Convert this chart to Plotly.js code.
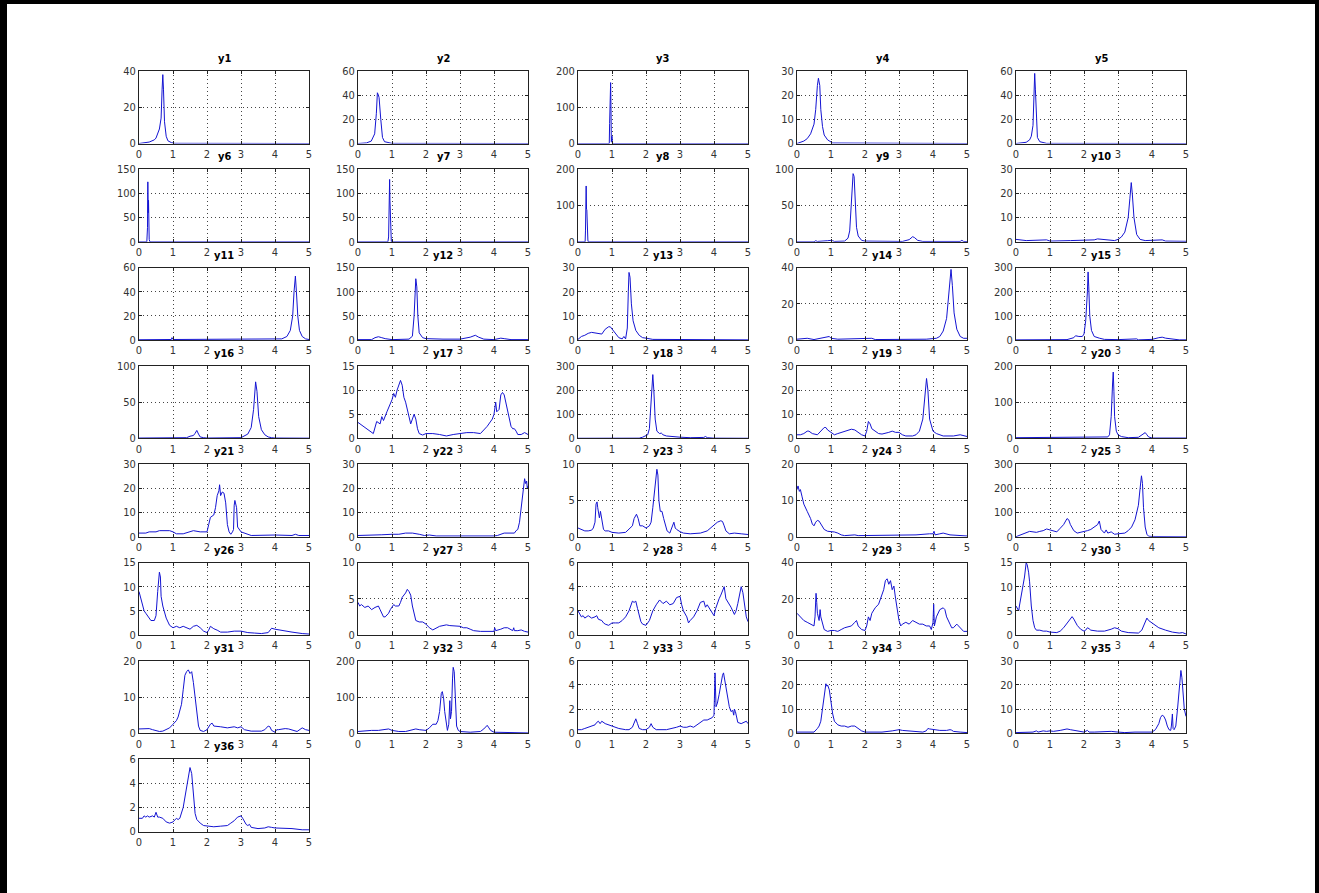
<!DOCTYPE html>
<html><head><meta charset="utf-8">
<script src="https://cdn.plot.ly/plotly-3.0.1.min.js"></script>
<style>
html,body{margin:0;padding:0;background:#fff;}
#chart{width:1319px;height:893px;}
#frame{position:absolute;left:0;top:0;width:1319px;height:893px;box-sizing:border-box;border-left:7px solid #000;border-right:4px solid #000;border-top:4px solid #000;pointer-events:none;}
</style></head>
<body><div id="chart"></div><div id="frame"></div>
<script>
const titles = ['y1','y2','y3','y4','y5','y6','y7','y8','y9','y10','y11','y12','y13','y14','y15','y16','y17','y18','y19','y20','y21','y22','y23','y24','y25','y26','y27','y28','y29','y30','y31','y32','y33','y34','y35','y36'];
const xTicks = [0,1,2,3,4,5];
const yTop  = [40,60,200,30,60, 150,150,200,100,30, 60,150,30,40,300, 100,15,300,30,200, 30,30,10,20,300, 15,10,6,40,15, 20,200,6,30,30, 6];
const yStep = [20,20,100,10,20, 50,50,100,50,10, 20,50,10,20,100, 50,5,100,10,100, 10,10,5,10,100, 5,5,2,20,5, 10,100,2,10,10, 2];

const s1 = [[0,0],[0.2,0.3],[0.3,0.8],[0.45,2],[0.5,3],[0.6,8],[0.65,14],[0.68,30],[0.7,38],[0.72,30],[0.75,12],[0.8,4],[0.85,1.5],[0.95,0.5],[1.0,0.3],[1.05,0.1],[5,0]];
const s2 = [[0,0],[0.25,0.5],[0.39,2],[0.49,8],[0.54,25],[0.57,42],[0.6,40],[0.62,38],[0.67,20],[0.72,5],[0.78,1.5],[0.93,0.3],[1.0,0.1],[5,0]];
const s3 = [[0,0],[0.92,0],[0.93,55],[0.94,130],[0.95,100],[0.96,168],[0.97,100],[0.98,5],[1.0,20],[1.01,0],[5,0]];
const s4 = [[0,0],[0.1,0.5],[0.2,1],[0.3,2],[0.4,4],[0.5,8],[0.55,14],[0.6,24],[0.63,27],[0.67,24],[0.7,14],[0.75,7],[0.8,3.5],[0.9,1.5],[1.0,0.7],[1.05,0.2],[5,0]];
const s5 = [[0,0],[0.1,0.3],[0.2,0.5],[0.3,1],[0.4,3],[0.45,6],[0.5,15],[0.53,40],[0.55,58],[0.57,45],[0.6,15],[0.63,5],[0.7,1.5],[0.8,0.5],[0.9,0.1],[5,0]];
const s6 = [[0,0],[0.23,0],[0.25,30],[0.26,124],[0.27,60],[0.28,86],[0.29,30],[0.3,5],[0.32,0],[5,0]];
const s7 = [[0,0],[0.88,0],[0.9,10],[0.92,60],[0.93,129],[0.94,85],[0.95,40],[0.96,5],[0.98,0],[5,0]];
const s8 = [[0,0],[0.21,0],[0.22,30],[0.24,154],[0.25,90],[0.26,88],[0.27,20],[0.29,5],[0.3,0],[5,0]];
const s9 = [[0,0],[0.5,0],[0.55,1.5],[0.6,0.5],[0.9,1.5],[0.95,2],[1.0,2],[1.05,1.5],[1.1,0.5],[1.4,1],[1.5,5],[1.55,15],[1.6,50],[1.65,94],[1.68,90],[1.72,50],[1.75,20],[1.8,8],[1.85,4],[1.9,2],[2.0,1],[2.5,0.5],[3.1,0.5],[3.3,3],[3.4,7],[3.45,6],[3.55,2],[3.7,0.5],[4.8,0.5],[4.85,2],[4.9,0.5],[5,0.3]];
const s10 = [[0,1],[0.3,0.5],[0.9,0.8],[1.0,0.3],[1.6,0.5],[2.3,0.8],[2.4,1.2],[2.6,0.8],[2.9,0.5],[3.0,1],[3.1,2],[3.2,4],[3.3,10],[3.35,18],[3.39,24.5],[3.42,20],[3.47,10],[3.55,3],[3.65,1],[3.8,0.5],[4.3,0.8],[4.4,0.3],[5,0.2]];
const s11 = [[0,0.3],[0.95,0.5],[0.97,2],[1.0,0.5],[4.2,1],[4.35,3],[4.45,8],[4.52,20],[4.56,40],[4.6,53],[4.63,40],[4.67,20],[4.72,8],[4.8,3],[4.9,1],[5,0.5]];
const s12 = [[0,1],[0.4,1],[0.5,5],[0.6,7],[0.7,5],[0.8,3],[1.0,1],[1.5,2],[1.6,8],[1.65,50],[1.7,127],[1.73,110],[1.76,50],[1.8,15],[1.9,5],[2.0,3],[2.5,2],[3.0,2],[3.3,6],[3.45,10],[3.55,6],[3.7,2],[4.0,1],[4.2,4],[4.3,3],[4.5,1],[5,1]];
const s13 = [[0,0.3],[0.1,1.5],[0.2,2],[0.3,2.8],[0.4,3.2],[0.5,3],[0.6,3],[0.7,2.5],[0.8,4.5],[0.9,5.5],[0.95,5.5],[1.0,4.5],[1.1,3],[1.2,1],[1.3,0.5],[1.35,1.5],[1.4,0.5],[1.45,5],[1.48,20],[1.5,28],[1.53,26],[1.57,15],[1.62,8],[1.7,4],[1.8,2],[1.9,1],[2.0,0.8],[2.2,0.3],[5,0.1]];
const s14 = [[0,0.5],[0.3,1],[0.5,0.3],[0.8,1.5],[0.95,2],[1.0,1],[1.2,0.5],[2.2,1],[2.3,0.3],[3.8,0.5],[4.1,1],[4.2,2],[4.3,5],[4.4,12],[4.47,28],[4.53,39],[4.57,30],[4.62,15],[4.7,6],[4.8,2],[4.9,1],[5,1]];
const s15 = [[0,1],[0.5,1],[0.55,4],[0.6,1],[1.5,2],[1.7,10],[1.75,18],[1.85,15],[1.95,15],[2.0,25],[2.05,80],[2.1,200],[2.12,282],[2.14,220],[2.17,100],[2.22,40],[2.3,15],[2.45,8],[2.6,3],[3.0,2],[3.5,2],[3.55,5],[3.6,1],[4.0,3],[4.2,10],[4.3,12],[4.4,8],[4.6,3],[4.8,1],[5,1]];
const s16 = [[0,0.5],[1.4,1],[1.5,3],[1.6,4],[1.65,7],[1.7,11],[1.75,6],[1.8,2],[1.9,1],[2.0,0.5],[3.0,1],[3.1,3],[3.2,6],[3.3,15],[3.37,40],[3.43,78],[3.47,65],[3.52,30],[3.6,12],[3.7,5],[3.8,2],[3.9,1],[4,0.5],[5,0.3]];
const s17 = [[0,3.3],[0.25,2],[0.45,1],[0.55,3.5],[0.65,3],[0.7,4.5],[0.75,3.7],[0.85,5.5],[0.95,7],[1.0,8],[1.05,9.3],[1.1,8.5],[1.15,10],[1.2,11],[1.25,12],[1.3,11],[1.35,8.5],[1.4,7.5],[1.45,6],[1.5,4],[1.55,3],[1.6,4],[1.65,5],[1.7,4],[1.75,2],[1.8,1],[1.9,0.7],[2.0,1],[2.2,1],[2.4,0.8],[2.6,0.5],[2.8,0.8],[3.0,1],[3.2,1.2],[3.4,1.2],[3.6,1],[3.8,2.5],[3.95,4],[4.0,5],[4.05,7.5],[4.08,5.5],[4.15,6],[4.2,9],[4.25,9.5],[4.3,9],[4.35,7.5],[4.4,6],[4.45,4],[4.5,2.5],[4.55,2],[4.6,2],[4.65,1.5],[4.7,0.8],[4.8,0.8],[4.9,1.2],[5,0.8]];
const s18 = [[0,0.5],[1.8,1],[1.9,5],[2.0,10],[2.05,15],[2.1,40],[2.15,150],[2.2,264],[2.23,200],[2.27,80],[2.32,30],[2.4,20],[2.45,22],[2.5,15],[2.6,10],[2.8,7],[3.0,5],[3.3,3],[3.7,4],[3.75,8],[3.8,3],[4,1],[5,0.5]];
const s19 = [[0,1.5],[0.1,1.5],[0.2,2],[0.3,3],[0.35,3],[0.45,2],[0.6,1.5],[0.7,3],[0.8,4.5],[0.85,4.5],[0.9,3.5],[1.0,2.5],[1.1,1.5],[1.2,2],[1.3,2.5],[1.4,3],[1.5,3.5],[1.6,3.8],[1.7,3.5],[1.8,2.5],[1.9,1.5],[2.0,1],[2.05,3],[2.1,7],[2.15,6],[2.2,4],[2.3,3],[2.4,2],[2.5,1.8],[2.6,2],[2.7,2.5],[2.8,3],[2.9,2.5],[3.0,2.5],[3.1,1.5],[3.2,1],[3.4,1],[3.5,1.5],[3.6,3],[3.7,8],[3.76,18],[3.81,24.8],[3.85,20],[3.9,8],[4.0,3],[4.1,2],[4.3,1],[4.6,1],[4.8,1.5],[4.9,1],[5,0.8]];
const s20 = [[0,2],[0.2,2],[0.3,3],[0.4,2],[0.9,2],[0.95,4],[1.0,2],[1.5,2],[1.52,4],[1.55,2],[2.0,3],[2.5,3],[2.7,4],[2.75,10],[2.8,60],[2.84,150],[2.86,183],[2.88,130],[2.9,60],[2.95,20],[3.0,10],[3.1,5],[3.3,2],[3.6,3],[3.7,10],[3.8,16],[3.85,10],[3.9,4],[4,1],[5,1]];
const s21 = [[0,1.5],[0.2,1.5],[0.3,2],[0.5,2],[0.6,2.5],[0.7,2.5],[0.9,2.5],[1.0,2],[1.1,1.2],[1.3,1.2],[1.5,2],[1.6,2.5],[1.8,2],[2.0,2],[2.05,5],[2.1,8],[2.2,9],[2.25,12],[2.3,17],[2.35,19],[2.37,21.5],[2.4,17],[2.45,18.5],[2.5,18],[2.55,14],[2.6,5],[2.65,2],[2.7,1],[2.75,2],[2.78,3],[2.8,13],[2.82,15],[2.87,12],[2.9,4],[3.0,2],[3.1,1.5],[3.2,1],[3.3,0.5],[4.0,0.7],[4.5,0.5],[4.6,1],[4.7,0.5],[5,0.5]];
const s22 = [[0,0.5],[0.5,0.5],[0.7,0.8],[1.0,1],[1.2,1],[1.4,1.5],[1.6,1.5],[1.8,1],[1.95,0.5],[2.1,0.7],[2.3,0.3],[4.0,0.3],[4.1,0.5],[4.3,1.5],[4.5,1.5],[4.6,1.5],[4.65,2.5],[4.7,3],[4.75,6],[4.8,12],[4.85,17],[4.88,20],[4.9,24],[4.93,22],[4.96,23],[4.98,20],[5.0,21]];
const s23 = [[0,1.2],[0.1,1],[0.2,0.8],[0.3,0.8],[0.4,0.9],[0.45,1.2],[0.5,2],[0.53,4.5],[0.56,4.8],[0.58,4],[0.6,3.3],[0.63,2.6],[0.66,3.5],[0.7,2.5],[0.75,1],[0.8,0.8],[0.9,0.8],[1.0,0.6],[1.2,0.5],[1.4,0.6],[1.5,1],[1.6,1.5],[1.65,2.5],[1.72,3.1],[1.77,2.5],[1.82,1.5],[1.9,1.5],[2.0,1.2],[2.1,1.5],[2.15,2],[2.2,4],[2.26,7],[2.32,9.3],[2.35,8.5],[2.38,5],[2.42,3.5],[2.47,3.5],[2.52,2.5],[2.57,1.5],[2.62,0.8],[2.7,0.5],[2.75,1.2],[2.82,2],[2.86,1.2],[2.9,1],[3.0,0.7],[3.1,0.5],[3.3,0.4],[3.6,0.5],[3.8,0.8],[3.9,1.2],[4.0,1.5],[4.1,2],[4.2,2.2],[4.25,2.1],[4.3,1.5],[4.35,0.8],[4.45,0.4],[4.6,0.5],[4.8,0.4],[5,0.3]];
const s24 = [[0,13],[0.03,14],[0.07,12.5],[0.1,13],[0.15,11],[0.2,9],[0.3,7],[0.4,5],[0.45,3.5],[0.5,3],[0.55,4],[0.6,4.5],[0.65,4.3],[0.7,3.5],[0.8,2],[0.9,1.5],[1.0,1.5],[1.1,1.3],[1.2,1],[1.3,0.5],[1.4,0.3],[1.7,0.5],[1.8,0.3],[2.5,0.3],[3.0,0.5],[3.5,0.5],[3.9,0.8],[4.0,0.8],[4.03,1.5],[4.06,0.5],[4.2,0.8],[4.3,1],[4.5,0.5],[4.8,0.3],[5,0.2]];
const s25 = [[0,0],[0.1,5],[0.2,10],[0.3,18],[0.4,22],[0.5,20],[0.6,18],[0.7,22],[0.8,25],[0.9,32],[1.0,28],[1.1,25],[1.2,20],[1.3,35],[1.4,50],[1.5,75],[1.55,70],[1.6,50],[1.7,25],[1.8,15],[1.9,18],[2.0,20],[2.1,25],[2.2,30],[2.3,40],[2.4,50],[2.45,65],[2.5,30],[2.6,15],[2.65,28],[2.7,15],[2.8,20],[2.85,15],[2.9,10],[3.0,12],[3.2,15],[3.3,25],[3.4,40],[3.5,70],[3.6,130],[3.65,200],[3.69,252],[3.72,220],[3.75,120],[3.8,40],[3.85,10],[3.9,2],[4.0,1],[5,0]];
const s26 = [[0,9],[0.05,7.5],[0.1,6],[0.15,5],[0.2,4.5],[0.3,3.5],[0.35,3],[0.45,3],[0.5,4],[0.55,9],[0.58,12.5],[0.6,13],[0.63,12],[0.65,8],[0.7,6],[0.8,3.5],[0.9,2],[1.0,1.5],[1.1,1.8],[1.2,1.5],[1.3,1.8],[1.4,1.5],[1.5,1.2],[1.6,1.8],[1.7,2],[1.8,1.5],[1.9,0.8],[2.0,0.5],[2.05,1],[2.1,1.8],[2.2,1.3],[2.3,1],[2.4,0.6],[2.6,0.6],[2.8,0.8],[3.0,0.8],[3.2,0.5],[3.4,0.4],[3.6,0.3],[3.8,0.5],[3.9,1.4],[4.0,1.2],[4.2,0.9],[4.5,0.6],[4.8,0.3],[5,0.2]];
const s27 = [[0,4.5],[0.05,4],[0.1,4.2],[0.2,3.8],[0.3,4],[0.4,3.5],[0.5,3.8],[0.6,4],[0.65,3.5],[0.7,3],[0.75,2.5],[0.8,2.5],[0.85,2.8],[0.9,3],[0.95,3.5],[1.0,3.8],[1.05,4.2],[1.1,4],[1.2,4],[1.25,4.5],[1.3,5.2],[1.4,5.8],[1.45,6.3],[1.5,6],[1.55,5.5],[1.6,4],[1.7,2],[1.8,1.8],[1.9,1.8],[2.0,1.5],[2.1,1],[2.2,0.7],[2.3,1],[2.4,1.2],[2.5,1.3],[2.6,1.4],[2.7,1.3],[2.8,1.3],[2.9,1.3],[3.0,1.2],[3.1,1],[3.2,1],[3.3,0.8],[3.4,0.6],[3.6,0.5],[3.8,0.5],[4.0,0.5],[4.02,1],[4.05,0.6],[4.2,0.8],[4.3,1],[4.4,1],[4.5,0.8],[4.55,0.6],[4.58,1],[4.6,0.6],[4.7,0.6],[4.8,0.7],[4.9,0.5],[5,0.4]];
const s28 = [[0,2],[0.05,1.8],[0.1,1.5],[0.15,1.6],[0.2,1.4],[0.3,1.6],[0.4,1.4],[0.5,1.5],[0.55,1.6],[0.6,1.3],[0.7,1.2],[0.75,1],[0.8,0.9],[0.9,0.8],[1.0,1],[1.1,1],[1.2,1],[1.3,1.2],[1.4,1.5],[1.5,2],[1.6,2.8],[1.65,2.7],[1.7,2.8],[1.75,2.2],[1.8,1.5],[1.85,1.1],[1.9,0.9],[2.0,0.8],[2.1,1.2],[2.2,2],[2.3,2.5],[2.4,2.9],[2.5,2.6],[2.6,2.8],[2.7,2.5],[2.8,2.6],[2.9,3.1],[3.0,3.2],[3.05,2.5],[3.1,2],[3.2,1.5],[3.25,1],[3.3,1.2],[3.4,1.5],[3.5,2],[3.6,2.7],[3.7,2.8],[3.75,2.3],[3.8,2.5],[3.9,2],[4.0,1.6],[4.05,2.2],[4.1,2.7],[4.15,3],[4.2,3.3],[4.25,3.6],[4.3,4],[4.35,3],[4.4,2.8],[4.5,2.3],[4.6,1.7],[4.65,2],[4.7,2.6],[4.75,3.5],[4.8,4],[4.85,3.5],[4.9,2.5],[4.95,1.5],[5,1.1]];
const s29 = [[0,12],[0.1,10],[0.2,8],[0.3,7],[0.4,6],[0.5,5],[0.53,10],[0.56,23],[0.58,18],[0.6,12],[0.65,8],[0.68,14],[0.7,10],[0.75,6],[0.8,3],[0.9,2],[1.0,2.5],[1.1,2.5],[1.2,2],[1.3,3],[1.4,4],[1.5,4.5],[1.6,5],[1.7,7],[1.75,8],[1.8,5],[1.9,3],[2.0,2.5],[2.05,5],[2.1,10],[2.15,8],[2.2,12],[2.3,15],[2.4,17],[2.5,22],[2.55,25],[2.6,30],[2.65,31],[2.7,28],[2.75,30],[2.8,25],[2.85,27],[2.9,20],[2.95,14],[3.0,8],[3.05,5],[3.1,6],[3.2,7],[3.3,6],[3.4,8],[3.5,7],[3.6,6],[3.7,6],[3.8,5],[3.9,5],[3.95,3],[4.0,7],[4.02,17],[4.04,5],[4.1,10],[4.2,14],[4.3,15],[4.35,14],[4.4,10],[4.5,6],[4.55,4],[4.6,4],[4.7,6],[4.75,5],[4.8,4],[4.9,2],[5,2]];
const s30 = [[0,6],[0.05,5.5],[0.08,5],[0.1,6],[0.15,8],[0.2,10],[0.25,12],[0.3,15],[0.33,14.5],[0.37,13],[0.4,11],[0.45,6],[0.5,3],[0.55,1.5],[0.6,1],[0.7,1],[0.8,0.8],[0.9,0.8],[1.0,0.6],[1.2,0.5],[1.3,0.8],[1.4,1.5],[1.5,2.5],[1.6,3.5],[1.65,3.8],[1.7,3.3],[1.8,2],[1.9,1.2],[2.0,0.8],[2.05,1],[2.1,1.5],[2.15,1.3],[2.2,1],[2.4,0.8],[2.6,0.8],[2.8,1.2],[2.9,1.5],[3.0,1.3],[3.1,0.8],[3.3,0.5],[3.5,0.4],[3.6,0.4],[3.7,1],[3.8,2.5],[3.85,3.5],[3.9,3],[4.0,2.5],[4.1,2],[4.2,1.5],[4.4,1],[4.6,0.6],[4.8,0.4],[4.9,0.5],[5,0.2]];
const s31 = [[0,1.2],[0.1,1.2],[0.2,1.3],[0.3,1.3],[0.4,1],[0.5,0.8],[0.6,0.5],[0.7,0.6],[0.8,1],[0.9,1.5],[1.0,2.5],[1.1,3.5],[1.15,4.5],[1.2,6],[1.25,8],[1.3,12],[1.35,16],[1.4,17],[1.45,17.5],[1.5,16.5],[1.55,17],[1.6,14],[1.65,10],[1.7,5],[1.75,2],[1.8,0.8],[1.9,0.5],[2.0,1],[2.1,2.5],[2.15,2.8],[2.2,2],[2.4,1.8],[2.6,1.5],[2.8,1.8],[2.9,1.5],[3.0,1.8],[3.1,1],[3.3,0.6],[3.6,0.6],[3.7,1],[3.8,2],[3.85,1.8],[3.9,0.8],[4.0,0.3],[4.05,1],[4.1,1],[4.2,1.2],[4.3,1.3],[4.4,1.2],[4.5,1],[4.6,0.8],[4.65,0.5],[4.8,1.5],[4.9,1],[5,0.8]];
const s32 = [[0,5],[0.2,7],[0.4,8],[0.6,8],[0.7,10],[0.8,12],[0.9,12],[1.0,8],[1.2,5],[1.4,5],[1.5,8],[1.6,10],[1.7,12],[1.8,10],[1.9,8],[2.0,8],[2.1,15],[2.2,25],[2.3,25],[2.35,35],[2.4,60],[2.45,110],[2.48,115],[2.52,95],[2.55,60],[2.6,20],[2.63,8],[2.67,25],[2.7,90],[2.72,40],[2.75,60],[2.78,150],[2.8,182],[2.83,170],[2.86,80],[2.9,20],[2.95,8],[3.0,5],[3.3,3],[3.6,5],[3.7,12],[3.8,22],[3.85,15],[3.9,8],[4,3],[4.5,1],[5,1]];
const s33 = [[0,0.3],[0.1,0.3],[0.2,0.4],[0.3,0.5],[0.4,0.6],[0.5,0.7],[0.55,0.9],[0.6,1],[0.65,0.8],[0.7,1],[0.8,0.8],[0.9,0.7],[1.0,0.6],[1.2,0.4],[1.4,0.3],[1.5,0.3],[1.6,0.5],[1.7,1.2],[1.75,0.8],[1.8,0.4],[1.9,0.3],[2.0,0.3],[2.1,0.5],[2.15,0.8],[2.2,0.5],[2.3,0.3],[2.6,0.3],[2.8,0.4],[2.9,0.5],[3.0,0.6],[3.1,0.5],[3.2,0.5],[3.3,0.6],[3.4,0.5],[3.5,0.7],[3.6,0.9],[3.7,1.1],[3.8,1.1],[3.9,1.2],[3.95,1.3],[4.0,1.5],[4.03,5],[4.06,2.2],[4.1,2.5],[4.15,3.2],[4.2,4.2],[4.25,4.8],[4.28,5],[4.3,4.7],[4.35,3.8],[4.4,3],[4.45,2.2],[4.5,1.8],[4.55,1.9],[4.58,1.5],[4.6,2],[4.63,1.8],[4.7,0.9],[4.8,0.8],[4.9,0.9],[4.95,1],[5,0.8]];
const s34 = [[0,0.5],[0.3,0.5],[0.5,0.5],[0.6,2],[0.65,3],[0.7,5],[0.75,10],[0.8,15],[0.85,20.5],[0.88,19.5],[0.9,20],[0.95,18],[1.0,12],[1.05,8],[1.1,5],[1.2,3.5],[1.3,3],[1.4,3],[1.5,2.5],[1.6,3],[1.7,3],[1.8,2],[1.9,1],[2.0,0.5],[2.5,0.5],[2.8,1],[3.0,1.5],[3.1,1.2],[3.3,1],[3.5,0.8],[3.7,0.5],[3.8,1],[3.85,2],[3.9,1.8],[4.0,1.5],[4.2,1.2],[4.4,1.2],[4.5,1.5],[4.55,1.3],[4.6,0.8],[4.8,0.5],[5,0.3]];
const s35 = [[0,0.3],[0.3,0.3],[0.5,0.5],[0.6,1],[0.65,0.5],[0.8,1],[0.9,0.8],[1.0,1],[1.1,0.8],[1.3,1.2],[1.5,1.8],[1.6,1.5],[1.7,1.2],[1.8,1],[1.9,0.8],[2.0,0.5],[2.1,1.2],[2.15,0.5],[2.3,0.5],[2.6,0.8],[2.8,0.8],[3.0,0.5],[3.2,0.3],[3.5,0.5],[3.8,0.5],[4.0,0.5],[4.1,1.5],[4.2,4],[4.25,6.5],[4.3,7.5],[4.35,7],[4.4,5.5],[4.45,3],[4.5,1.5],[4.55,1.2],[4.57,3],[4.6,8],[4.62,2],[4.65,1.5],[4.7,3],[4.75,10],[4.8,20],[4.85,26],[4.88,23],[4.9,18],[4.95,10],[5,7]];
const s36 = [[0,1.1],[0.1,1.1],[0.15,1.3],[0.2,1.2],[0.25,1.3],[0.3,1.2],[0.4,1.3],[0.45,1.2],[0.5,1.6],[0.55,1.2],[0.6,1.2],[0.7,1.1],[0.8,0.8],[0.9,0.7],[1.0,0.8],[1.05,1],[1.1,1.1],[1.15,1],[1.2,1.1],[1.3,2],[1.4,3.5],[1.45,4.5],[1.5,5.3],[1.55,4.8],[1.6,3],[1.65,1.5],[1.7,1],[1.8,0.7],[1.9,0.5],[2.0,0.45],[2.2,0.4],[2.4,0.45],[2.6,0.5],[2.7,0.7],[2.8,0.9],[2.9,1.2],[3.0,1.3],[3.05,1.1],[3.1,0.8],[3.15,0.6],[3.2,0.5],[3.25,0.6],[3.3,0.35],[3.5,0.25],[3.7,0.3],[3.8,0.4],[3.9,0.35],[4.0,0.3],[4.5,0.25],[4.8,0.15],[5,0.15]];

const series = [s1,s2,s3,s4,s5,s6,s7,s8,s9,s10,s11,s12,s13,s14,s15,s16,s17,s18,s19,s20,s21,s22,s23,s24,s25,s26,s27,s28,s29,s30,s31,s32,s33,s34,s35,s36];

const W = 1319, H = 893;
const colLeft = [139, 358, 578, 797, 1016], plotW = 170;
const rowTop0 = 71, rowStep = 98.3, plotH = 72.5;
const FONT = '"Liberation Sans Narrow", "DejaVu Sans Condensed", "Liberation Sans", Arial, sans-serif';

const axisCommon = {
  showline: true, linecolor: '#222', linewidth: 1, mirror: 'ticks',
  ticks: 'inside', ticklen: 3, tickcolor: '#222', tickwidth: 1,
  showgrid: true, gridcolor: '#444', gridwidth: 1, griddash: '1px,3px',
  zeroline: false, fixedrange: true,
  tickfont: {family: FONT, size: 11, color: '#333'}
};

const traces = [];
const layout = {
  width: W, height: H, margin: {l:0, r:0, t:0, b:0},
  showlegend: false, paper_bgcolor: '#fff', plot_bgcolor: '#fff',
  annotations: []
};

series.forEach((s, i) => {
  const r = Math.floor(i / 5), c = i % 5;
  const top = rowTop0 + r * rowStep, bot = top + plotH;
  const n = i === 0 ? '' : String(i + 1);
  layout['xaxis' + n] = Object.assign({}, axisCommon, {
    domain: [colLeft[c] / W, (colLeft[c] + plotW) / W],
    anchor: 'y' + n, range: [0, 5], tickmode: 'array', tickvals: xTicks, ticktext: xTicks.map(String)
  });
  layout['yaxis' + n] = Object.assign({}, axisCommon, {
    domain: [1 - bot / H, 1 - top / H],
    anchor: 'x' + n, range: [0, yTop[i]], tick0: 0, dtick: yStep[i]
  });
  traces.push({
    x: s.map(p => p[0]), y: s.map(p => p[1]),
    xaxis: 'x' + n, yaxis: 'y' + n, mode: 'lines',
    line: {color: '#1414d2', width: 1}, hoverinfo: 'skip'
  });
  layout.annotations.push({
    text: '<b>' + titles[i] + '</b>', xref: 'paper', yref: 'paper',
    x: (colLeft[c] + plotW / 2) / W, y: 1 - (top - 4) / H,
    xanchor: 'center', yanchor: 'bottom', showarrow: false,
    font: {family: FONT, size: 11, color: '#000'}
  });
});

Plotly.newPlot('chart', traces, layout, {staticPlot: true, displayModeBar: false});
</script></body></html>
